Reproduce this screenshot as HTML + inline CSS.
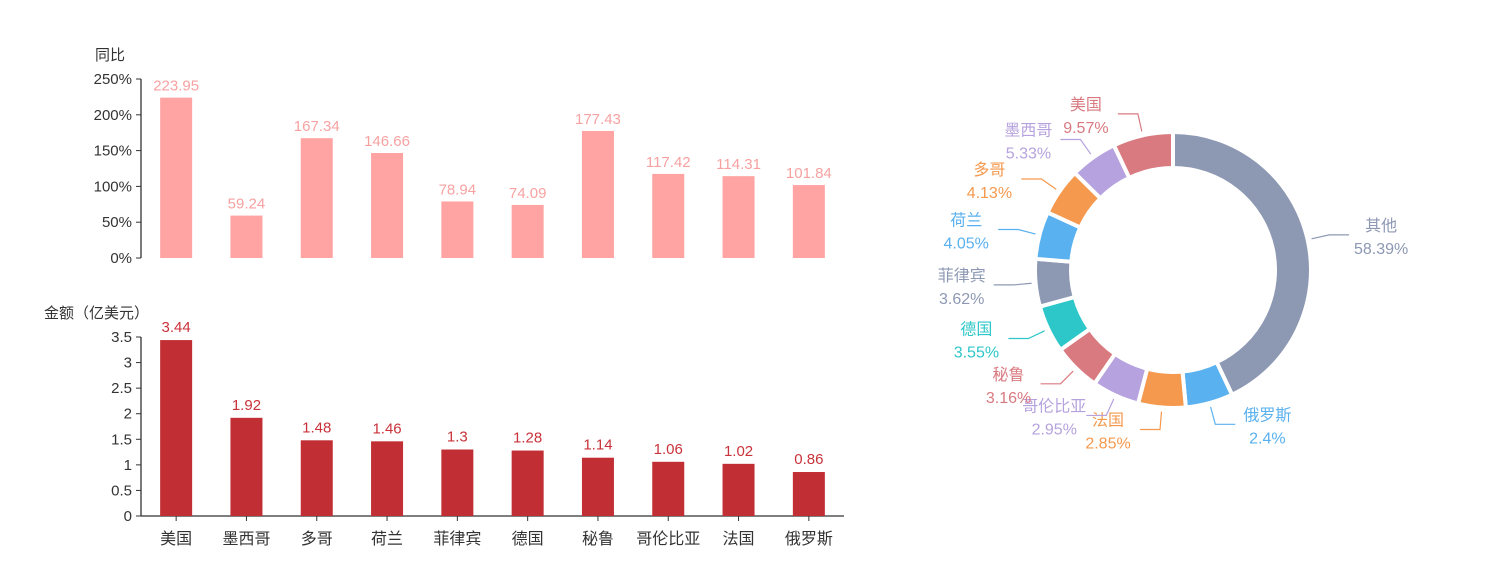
<!DOCTYPE html>
<html><head><meta charset="utf-8">
<style>
body{margin:0;background:#fff;width:1486px;height:570px;overflow:hidden}
svg{font-family:"Liberation Sans","Noto Sans CJK SC",sans-serif}
</style></head>
<body>
<svg id="c" width="1486" height="570" viewBox="0 0 1486 570" xmlns="http://www.w3.org/2000/svg"></svg>
<script>
const categories=["美国","墨西哥","多哥","荷兰","菲律宾","德国","秘鲁","哥伦比亚","法国","俄罗斯"];
const yoyValues=[223.95,59.24,167.34,146.66,78.94,74.09,177.43,117.42,114.31,101.84];
const amountValues=[3.44,1.92,1.48,1.46,1.3,1.28,1.14,1.06,1.02,0.86];
const yoyTicks=[0,50,100,150,200,250];
const amountTicks=[0,0.5,1,1.5,2,2.5,3,3.5];
const pieNames=["其他","俄罗斯","法国","哥伦比亚","秘鲁","德国","菲律宾","荷兰","多哥","墨西哥","美国"];
const pieValues=[58.39,2.4,2.85,2.95,3.16,3.55,3.62,4.05,4.13,5.33,9.57];
const pieColors=["#8d98b3","#5ab1ef","#f5994e","#b6a2de","#d87a80","#2ec7c9","#8d98b3","#5ab1ef","#f5994e","#b6a2de","#d87a80"];

const svg=document.getElementById('c');
const NS="http://www.w3.org/2000/svg";
function mk(tag,attrs,parent){const e=document.createElementNS(NS,tag);for(const k in attrs)e.setAttribute(k,attrs[k]);(parent||svg).appendChild(e);return e;}
function txt(s,attrs,parent){const e=mk('text',attrs,parent);e.textContent=s;return e;}

const x0=141,x1=844,band=(x1-x0)/categories.length,bw=32;
const xc=i=>x0+band*(i+0.5);
// top chart
const yTop=v=>258-(v/250)*179;
const gTop=mk('g',{});


const t1=txt('同比',{x:110,y:60,'font-size':15,fill:'#333','text-anchor':'middle'},gTop);

mk('line',{x1:x0,y1:yTop(250),x2:x0,y2:258,stroke:'#333','stroke-width':1.3},gTop);
yoyTicks.forEach(t=>{
  mk('line',{x1:x0-5,y1:yTop(t),x2:x0,y2:yTop(t),stroke:'#333'},gTop);
  const e=txt(t+'%',{x:x0-9,y:yTop(t)+5,'font-size':15,fill:'#333','text-anchor':'end'},gTop);
  
});
yoyValues.forEach((v,i)=>{
  const r=mk('rect',{x:xc(i)-bw/2,y:yTop(v),width:bw,height:258-yTop(v),fill:'#ffa3a3'},gTop);
  
  const l=txt(v.toFixed(2),{x:xc(i),y:yTop(v)-7,'font-size':15,fill:'#f7a1a1','text-anchor':'middle'},gTop);
  
});
// bottom chart
const yBot=v=>516-(v/3.5)*179;
const gB=mk('g',{});


const t2=txt('金额（亿美元）',{x:44,y:318,'font-size':15,fill:'#333'},gB);

mk('line',{x1:x0,y1:yBot(3.5),x2:x0,y2:516,stroke:'#333','stroke-width':1.3},gB);
mk('line',{x1:x0,y1:516,x2:x1,y2:516,stroke:'#333','stroke-width':1.3},gB);
amountTicks.forEach(t=>{
  mk('line',{x1:x0-5,y1:yBot(t),x2:x0,y2:yBot(t),stroke:'#333'},gB);
  const e=txt(String(t),{x:x0-9,y:yBot(t)+5,'font-size':15,fill:'#333','text-anchor':'end'},gB);
  
});
amountValues.forEach((v,i)=>{
  const r=mk('rect',{x:xc(i)-bw/2,y:yBot(v),width:bw,height:516-yBot(v),fill:'#c12e34'},gB);
  
  const l=txt(String(v),{x:xc(i),y:yBot(v)-8,'font-size':15,fill:'#c9323a','text-anchor':'middle'},gB);
  
});
categories.forEach((c,i)=>{
  mk('line',{x1:xc(i),y1:516,x2:xc(i),y2:521,stroke:'#333'},gB);
  const e=txt(c,{x:xc(i),y:544,'font-size':16,fill:'#333','text-anchor':'middle'},gB);
  
});
// donut with minAngle (ECharts-style)
const cx=1173,cy=270,R=138,r0=102,minAngle=20*Math.PI/180;
const gP=mk('g',{});


const total=pieValues.reduce((a,b)=>a+b,0);
let angles=pieValues.map(v=>v/total*2*Math.PI);
const small=angles.map(a=>a<minAngle);
const smallSum=small.filter(Boolean).length*minAngle;
const bigVal=pieValues.reduce((s,v,i)=>s+(small[i]?0:v),0);
angles=angles.map((a,i)=>small[i]?minAngle:(2*Math.PI-smallSum)*pieValues[i]/bigVal);
let acc=0;
const pt=(a,rad)=>[cx+rad*Math.sin(a),cy-rad*Math.cos(a)];
pieValues.forEach((v,i)=>{
  const a0=acc;acc+=angles[i];const a1=acc;
  const large=(a1-a0)>Math.PI?1:0;
  const p1=pt(a0,R),p2=pt(a1,R),p3=pt(a1,r0),p4=pt(a0,r0);
  const d=`M${p1[0]},${p1[1]} A${R},${R} 0 ${large} 1 ${p2[0]},${p2[1]} L${p3[0]},${p3[1]} A${r0},${r0} 0 ${large} 0 ${p4[0]},${p4[1]} Z`;
  const s=mk('path',{d:d,fill:pieColors[i],stroke:'#fff','stroke-width':4},gP);
  
  const am=(a0+a1)/2;
  const q1=pt(am,R+4),q2=pt(am,R+22);
  const right=Math.sin(am)>=0;
  const ex=q2[0]+(right?20:-20);
  mk('polyline',{points:`${q1[0]},${q1[1]} ${q2[0]},${q2[1]} ${ex},${q2[1]}`,fill:'none',stroke:pieColors[i],'stroke-width':1.2},gP);
  const tx=ex+(right?32:-32);
  const n=txt(pieNames[i],{x:tx,y:q2[1]-4,'font-size':16,fill:pieColors[i],'text-anchor':'middle'},gP);
  
  const p=txt(v+'%',{x:tx,y:q2[1]+19,'font-size':16,fill:pieColors[i],'text-anchor':'middle'},gP);
  
});
</script>
</body></html>
